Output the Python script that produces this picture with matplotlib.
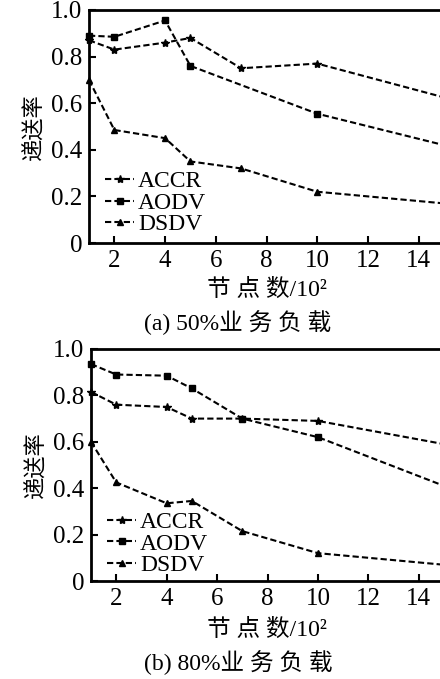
import matplotlib
matplotlib.use('Agg')
import matplotlib.pyplot as plt
from matplotlib.ticker import FuncFormatter

plt.rcParams['font.family'] = ['Liberation Serif', 'Noto Sans CJK SC']
plt.rcParams['axes.unicode_minus'] = False

# node count / 10^2
nodes = [1, 2, 4, 5, 7, 10, 15]
nodes_aodv_a = [1, 2, 4, 5, 10, 15]

# (a) 50% load
accr_a = [0.87, 0.83, 0.86, 0.88, 0.75, 0.77, 0.625]
aodv_a = [0.89, 0.885, 0.955, 0.76, 0.555, 0.42]
dsdv_a = [0.70, 0.485, 0.45, 0.35, 0.32, 0.22, 0.17]

# (b) 80% load
accr_b = [0.815, 0.76, 0.75, 0.70, 0.70, 0.69, 0.59]
aodv_b = [0.935, 0.89, 0.885, 0.83, 0.70, 0.62, 0.41]
dsdv_b = [0.60, 0.425, 0.335, 0.345, 0.215, 0.12, 0.07]

labels = ['ACCR', 'AODV', 'DSDV']
yticks = [0, 0.2, 0.4, 0.6, 0.8, 1.0]
xticks = [2, 4, 6, 8, 10, 12, 14]


def style_axes(ax):
    ax.set_xlim(1, 15)
    ax.set_ylim(0, 1.0)
    ax.set_xticks(xticks)
    ax.set_yticks(yticks)
    ax.yaxis.set_major_formatter(FuncFormatter(lambda v, p: '0' if v == 0 else '%.1f' % v))
    ax.tick_params(direction='in', length=5, width=1.5, labelsize=18, pad=5)
    for s in ax.spines.values():
        s.set_linewidth(2)
    ax.set_ylabel('递送率', fontsize=16, labelpad=4)


def draw(ax, xs_list, ys_list, legend_y):
    markers = ['*', 's', '^']
    sizes = [6, 4, 5]
    for xs, ys, m, ms, lab in zip(xs_list, ys_list, markers, sizes, labels):
        ax.plot(xs, ys, color='black', linestyle=(0, (3, 1.5)), linewidth=1.5,
                marker=m, markersize=ms, label=lab, clip_on=False)
    ax.legend(loc='lower left', bbox_to_anchor=(0.045, legend_y), frameon=False,
              fontsize=17, handlelength=1.25, handletextpad=0.15,
              labelspacing=0.0, borderpad=0, borderaxespad=0)


fig = plt.figure(figsize=(4.4, 6.79), dpi=100)

ax1 = fig.add_axes([89 / 440, 1 - 243 / 679, (444 - 89) / 440, 233 / 679])
draw(ax1, [nodes, nodes_aodv_a, nodes], [accr_a, aodv_a, dsdv_a], 0.033)
style_axes(ax1)

ax2 = fig.add_axes([91 / 440, 1 - 581 / 679, (444 - 91) / 440, 232 / 679])
draw(ax2, [nodes, nodes, nodes], [accr_b, aodv_b, dsdv_b], 0.021)
style_axes(ax2)

fig.text(267 / 440, 1 - 290 / 679, '节 点 数/10²', ha='center', va='center', fontsize=17)
fig.text(238 / 440, 1 - 323 / 679, '(a) 50%业 务 负 载', ha='center', va='center', fontsize=17)
fig.text(267 / 440, 1 - 630 / 679, '节 点 数/10²', ha='center', va='center', fontsize=17)
fig.text(238 / 440, 1 - 663 / 679, '(b) 80%业 务 负 载', ha='center', va='center', fontsize=17)

fig.savefig('out.png', dpi=100)
